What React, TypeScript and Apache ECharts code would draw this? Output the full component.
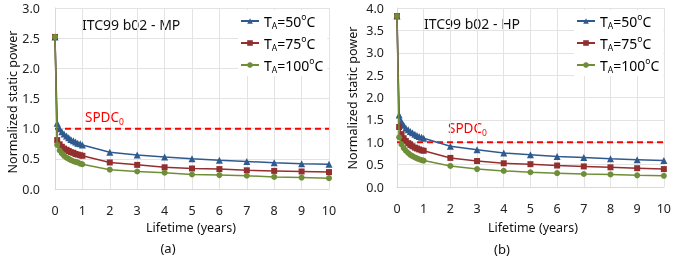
import React, { useEffect, useRef } from "react";
import * as echarts from "echarts";

const years = [0, 0.08, 0.17, 0.25, 0.33, 0.42, 0.5, 0.58, 0.67, 0.75, 0.83, 0.92, 1, 2, 3, 4, 5, 6, 7, 8, 9, 10];

const mp50 = [2.52, 1.09, 1.0, 0.95, 0.91, 0.88, 0.85, 0.82, 0.8, 0.78, 0.76, 0.75, 0.73, 0.61, 0.565, 0.53, 0.5, 0.475, 0.455, 0.435, 0.42, 0.41];
const mp75 = [2.52, 0.81, 0.74, 0.7, 0.67, 0.65, 0.63, 0.61, 0.6, 0.58, 0.57, 0.56, 0.55, 0.44, 0.4, 0.36, 0.34, 0.33, 0.31, 0.3, 0.29, 0.28];
const mp100 = [2.52, 0.73, 0.64, 0.59, 0.55, 0.52, 0.5, 0.48, 0.46, 0.45, 0.44, 0.42, 0.41, 0.32, 0.29, 0.27, 0.24, 0.23, 0.22, 0.2, 0.19, 0.18];

const hp50 = [3.82, 1.61, 1.46, 1.38, 1.32, 1.28, 1.24, 1.21, 1.18, 1.15, 1.13, 1.11, 1.09, 0.91, 0.83, 0.76, 0.72, 0.68, 0.66, 0.63, 0.61, 0.59];
const hp75 = [3.82, 1.34, 1.18, 1.09, 1.03, 0.98, 0.94, 0.91, 0.88, 0.86, 0.84, 0.82, 0.81, 0.65, 0.58, 0.53, 0.51, 0.48, 0.46, 0.44, 0.42, 0.4];
const hp100 = [3.82, 1.11, 0.95, 0.87, 0.81, 0.76, 0.72, 0.69, 0.66, 0.64, 0.62, 0.6, 0.59, 0.47, 0.4, 0.36, 0.33, 0.31, 0.29, 0.28, 0.26, 0.25];

const temps = ["50", "75", "100"];
const seriesNames = ["T50", "T75", "T100"];
const xTicks = [0, 10, 1];
const spdcLevel = 1.0;

const FONT = "Noto Sans";
const colors = ["#2F5A8F", "#93302F", "#6F8E38"];
const symbols = ["triangle", "rect", "circle"];

function pairs(v: number[]) {
  return years.map((x, i) => [x, v[i]]);
}

export default function App() {
  const ref = useRef<HTMLDivElement>(null);
  useEffect(() => {
    if (!ref.current) return;
    const chart = echarts.init(ref.current, null, { renderer: "svg" });
    const grids = [
      { left: 55, right: 345, top: 8, bottom: 76 },
      { left: 397, right: 7, top: 8, bottom: 78 },
    ];
    const ymax = [3, 4];
    const dataSets = [
      [mp50, mp75, mp100],
      [hp50, hp75, hp100],
    ];
    const series: any[] = [];
    dataSets.forEach((set, gi) => {
      series.push({
        type: "line",
        name: "SPDC",
        xAxisIndex: gi,
        yAxisIndex: gi,
        data: [[xTicks[0], spdcLevel], [xTicks[1], spdcLevel]],
        symbol: "none",
        lineStyle: { color: "#FF0000", width: 2, type: [6, 4] },
        z: 1,
      });
      set.forEach((vals, si) => {
        series.push({
          type: "line",
          name: seriesNames[si],
          xAxisIndex: gi,
          yAxisIndex: gi,
          data: pairs(vals),
          symbol: symbols[si],
          symbolSize: si === 0 ? 7 : 6,
          lineStyle: { color: colors[si], width: 1.5 },
          itemStyle: { color: colors[si] },
          z: 3 + si,
        });
      });
    });
    const rich = {
      n: { fontFamily: FONT, fontSize: 14, color: "#000", lineHeight: 18 },
      s: { fontFamily: FONT, fontSize: 8.5, color: "#000", verticalAlign: "bottom", lineHeight: 12 },
      p: { fontFamily: FONT, fontSize: 8.5, color: "#000", verticalAlign: "top", lineHeight: 12 },
    };
    const legend = [238, 574].map((left) => ({
      orient: "vertical",
      left,
      top: 10,
      padding: [2, 4, 2, 2],
      itemGap: 4,
      itemWidth: 18,
      itemHeight: 7,
      backgroundColor: "#FFFFFF",
      data: seriesNames,
      formatter: (name: string) => {
        const t = temps[seriesNames.indexOf(name)];
        return `{n|T}{s|A}{n|=${t}}{p|o}{n|C}`;
      },
      textStyle: { rich },
    }));
    const labelStyle = { fontFamily: FONT, fontSize: 12.5, color: "#222" };
    const mkText = (x: number, y: number, text: string, size: number) => ({
      type: "text",
      x,
      y,
      style: { text, fontFamily: FONT, fontSize: size, fill: "#111", align: "center", verticalAlign: "middle" },
    });
    const spdcRich = {
      a: { fontFamily: FONT, fontSize: 13.5, color: "#FF0000", lineHeight: 18 },
      b: { fontFamily: FONT, fontSize: 8.5, color: "#FF0000", verticalAlign: "bottom", lineHeight: 12 },
    };
    const graphic: any[] = [
      { type: "text", x: 82, y: 24, style: { text: "ITC99 b02 - MP", fontFamily: FONT, fontSize: 14, fill: "#111", verticalAlign: "middle" } },
      { type: "text", x: 424, y: 23, style: { text: "ITC99 b02 - HP", fontFamily: FONT, fontSize: 14, fill: "#111", verticalAlign: "middle" } },
      { type: "text", x: 85, y: 117, style: { text: "{a|SPDC}{b|0}", verticalAlign: "middle", fill: "#FF0000", rich: spdcRich } },
      { type: "text", x: 448, y: 128, style: { text: "{a|SPDC}{b|0}", verticalAlign: "middle", fill: "#FF0000", rich: spdcRich } },
      mkText(191, 227, "Lifetime (years)", 12.5),
      mkText(533, 227, "Lifetime (years)", 12.5),
      mkText(168, 248, "(a)", 13),
      mkText(502, 249, "(b)", 13),
      { type: "text", x: 12, y: 102, rotation: Math.PI / 2, style: { text: "Normalized static power", fontFamily: FONT, fontSize: 12.5, fill: "#111", align: "center", verticalAlign: "middle" } },
      { type: "text", x: 352, y: 98, rotation: Math.PI / 2, style: { text: "Normalized static power", fontFamily: FONT, fontSize: 12.5, fill: "#111", align: "center", verticalAlign: "middle" } },
    ];
    chart.setOption({
      animation: false,
      grid: grids,
      legend,
      xAxis: [0, 1].map((gi) => ({
        type: "value",
        gridIndex: gi,
        min: xTicks[0],
        max: xTicks[1],
        interval: xTicks[2],
        axisLine: { lineStyle: { color: "#D9D9D9" } },
        axisTick: { show: false },
        axisLabel: { ...labelStyle, margin: 15, showMaxLabel: true },
        splitLine: { show: true, lineStyle: { color: "#E3E3E3" } },
      })),
      yAxis: [0, 1].map((gi) => ({
        type: "value",
        gridIndex: gi,
        min: 0,
        max: ymax[gi],
        interval: 0.5,
        axisLine: { show: true, lineStyle: { color: "#D9D9D9" } },
        axisTick: { show: false },
        axisLabel: { ...labelStyle, margin: gi === 0 ? 15 : 13, formatter: (v: number) => v.toFixed(1) },
        splitLine: { show: true, lineStyle: { color: "#E3E3E3" } },
      })),
      series,
      graphic,
    });
    return () => chart.dispose();
  }, []);
  return <div ref={ref} style={{ position: "fixed", left: 0, top: 0, width: 674, height: 265 }} />;
}
